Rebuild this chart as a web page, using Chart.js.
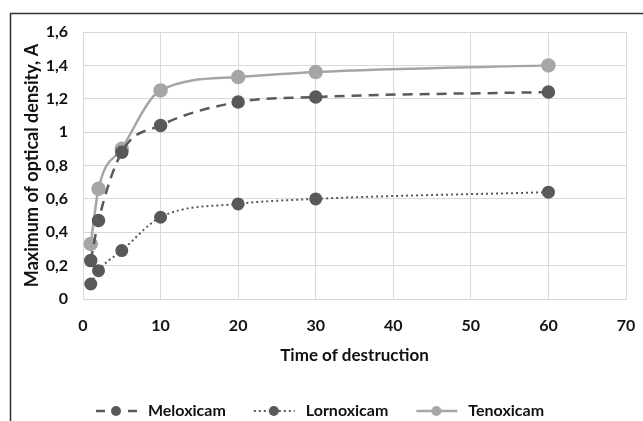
<!DOCTYPE html>
<html>
<head>
<meta charset="utf-8">
<script src="https://cdn.jsdelivr.net/npm/chart.js@4"></script>
<style>
  html, body { margin: 0; padding: 0; background: #fff; }
</style>
</head>
<body>
<canvas id="chart" width="643" height="421"></canvas>
<script>
// Data
const times = [1, 2, 5, 10, 20, 30, 60];
const meloxicam = [0.23, 0.47, 0.88, 1.04, 1.18, 1.21, 1.24];
const lornoxicam = [0.09, 0.17, 0.29, 0.49, 0.57, 0.60, 0.64];
const tenoxicam = [0.33, 0.66, 0.90, 1.25, 1.33, 1.36, 1.40];
const xTicks = [0, 10, 20, 30, 40, 50, 60, 70];
const yTicks = [0, 0.2, 0.4, 0.6, 0.8, 1, 1.2, 1.4, 1.6];

const dark = '#595959';
const light = '#a6a6a6';
const fontFamily = 'Lato, "Open Sans", sans-serif';

function toPoints(ys) {
    return times.map((t, i) => ({ x: t, y: ys[i] }));
}

// small line + dot picture for the legend entries
function legendSymbol(color, dash, width, radius) {
    const c = document.createElement('canvas');
    c.width = 48;
    c.height = 14;
    const ctx = c.getContext('2d');
    ctx.strokeStyle = color;
    ctx.lineWidth = width;
    ctx.setLineDash(dash);
    ctx.beginPath();
    ctx.moveTo(4, 7);
    ctx.lineTo(45, 7);
    ctx.stroke();
    ctx.setLineDash([]);
    ctx.fillStyle = color;
    ctx.beginPath();
    ctx.arc(24, 7, radius, 0, Math.PI * 2);
    ctx.fill();
    return c;
}

// top and left edges of the original picture frame
const framePlugin = {
    id: 'frame',
    afterDraw(chart) {
        const ctx = chart.ctx;
        ctx.save();
        ctx.strokeStyle = '#333';
        ctx.lineWidth = 1.5;
        ctx.beginPath();
        ctx.moveTo(643, 13.5);
        ctx.lineTo(10.5, 13.5);
        ctx.lineTo(10.5, 421);
        ctx.stroke();
        ctx.restore();
    }
};

const datasets = [
    {
        label: 'Meloxicam',
        data: toPoints(meloxicam),
        borderColor: dark,
        backgroundColor: dark,
        borderWidth: 2.5,
        borderDash: [10, 7],
        pointRadius: 5.5,
        pointHoverRadius: 5.5,
        symbol: legendSymbol(dark, [9, 23], 2.5, 5)
    },
    {
        label: 'Lornoxicam',
        data: toPoints(lornoxicam),
        borderColor: dark,
        backgroundColor: dark,
        borderWidth: 2,
        borderDash: [2, 3],
        pointRadius: 5.5,
        pointHoverRadius: 5.5,
        symbol: legendSymbol(dark, [2, 3], 2, 5)
    },
    {
        label: 'Tenoxicam',
        data: toPoints(tenoxicam),
        borderColor: light,
        backgroundColor: light,
        borderWidth: 2.5,
        borderDash: [],
        pointRadius: 6,
        pointHoverRadius: 6,
        symbol: legendSymbol(light, [], 2.5, 5)
    }
];

new Chart(document.getElementById('chart'), {
    type: 'scatter',
    data: { datasets: datasets.map(d => Object.assign({ showLine: true, cubicInterpolationMode: 'monotone' }, d)) },
    options: {
        responsive: false,
        animation: false,
        devicePixelRatio: 1,
        layout: { padding: { left: 10, right: 17, top: 32, bottom: -8 } },
        plugins: {
            tooltip: { enabled: false },
            legend: {
                position: 'bottom',
                labels: {
                    usePointStyle: true,
                    pointStyleWidth: 48,
                    padding: 24,
                    color: '#111',
                    font: { family: fontFamily, size: 16, weight: 'bold' },
                    generateLabels(chart) {
                        return chart.data.datasets.map((d, i) => ({
                            text: d.label,
                            pointStyle: d.symbol,
                            fillStyle: d.borderColor,
                            strokeStyle: d.borderColor,
                            lineWidth: 0,
                            fontColor: '#111',
                            datasetIndex: i
                        }));
                    }
                }
            }
        },
        scales: {
            x: {
                type: 'linear',
                min: 0,
                max: 70,
                afterBuildTicks(scale) { scale.ticks = xTicks.map(v => ({ value: v })); },
                afterFit(scale) {
                    scale.height = 80;
                    scale.paddingLeft = 0;
                    scale.paddingRight = 0;
                },
                grid: { color: '#d9d9d9', drawTicks: false },
                border: { color: '#d9d9d9' },
                ticks: {
                    padding: 17,
                    color: '#111',
                    font: { family: fontFamily, size: 16, weight: 'bold' }
                },
                title: {
                    display: true,
                    text: 'Time of destruction',
                    color: '#111',
                    font: { family: fontFamily, size: 17, weight: 'bold' },
                    padding: { top: 0, bottom: 13 }
                }
            },
            y: {
                type: 'linear',
                min: 0,
                max: 1.6,
                afterBuildTicks(scale) { scale.ticks = yTicks.map(v => ({ value: v })); },
                afterFit(scale) { scale.width = 73; },
                grid: { color: '#d9d9d9', drawTicks: false },
                border: { color: '#d9d9d9' },
                ticks: {
                    padding: 15,
                    color: '#111',
                    font: { family: fontFamily, size: 16, weight: 'bold' },
                    callback: v => String(Math.round(v * 10) / 10).replace('.', ',')
                },
                title: {
                    display: true,
                    text: 'Maximum of optical density, A',
                    color: '#111',
                    font: { family: fontFamily, size: 18, weight: 'bold' },
                    padding: { top: 11, bottom: 0 }
                }
            }
        }
    },
    plugins: [framePlugin]
});
</script>
</body>
</html>
